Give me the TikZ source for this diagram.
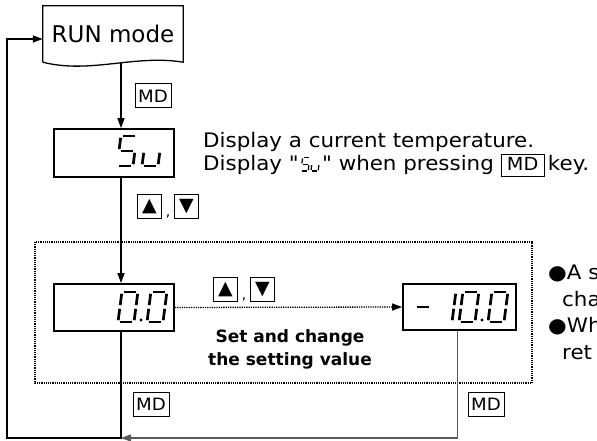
\documentclass[tikz,border=0pt]{standalone}
\usepackage{fontspec}
\setmainfont{DejaVu Sans}
\newfontfamily\notefont{DejaVu Sans}[FakeStretch=1.07]
\usetikzlibrary{arrows.meta,positioning}

% segments of a seven segment digit, cell 1 x 2
\newcommand\segpatha{(0.12,2) -- (0.88,2)}
\newcommand\segpathb{(1,1.88) -- (1,1.12)}
\newcommand\segpathc{(1,0.88) -- (1,0.12)}
\newcommand\segpathd{(0.12,0) -- (0.88,0)}
\newcommand\segpathe{(0,0.88) -- (0,0.12)}
\newcommand\segpathf{(0,1.88) -- (0,1.12)}
\newcommand\segpathg{(0.12,1) -- (0.88,1)}
% [scale]{bottom left}{segments}
\newcommand\segdigit[3][1]{%
  \begin{scope}[shift={#2}, x={(#1*16pt,0pt)}, y={(0pt,#1*15pt)}, xslant=0.13]
    \foreach \s in {#3} {\draw[line width=#1*2.7pt] \csname segpath\s\endcsname;}
  \end{scope}}
\newcommand\segdot[2][1]{\fill #2 circle (#1*1.7pt);}

\begin{document}
\begin{tikzpicture}[
x=1pt, y=-1pt,
box/.style={draw, line width=1.8pt, minimum width=120pt, minimum height=48pt},
key/.style={draw, line width=1pt, minimum size=24pt, inner sep=0pt, font=\fontsize{19}{19}\selectfont},
mdkey/.style={draw, line width=1pt, minimum width=36pt, minimum height=24pt, inner sep=0pt, font=\notefont\fontsize{17}{17}\selectfont},
flow/.style={line width=1.3pt, -{Triangle[length=10pt,width=7pt]}},
link/.style={line width=1.3pt},
note/.style={inner sep=0pt, anchor=base west, font=\notefont\fontsize{20}{23}\selectfont}
]
    \useasboundingbox (0,0) rectangle (597,441);

    % RUN mode document
    \node[minimum width=140pt, minimum height=56pt, inner sep=0pt, font=\fontsize{23}{23}\selectfont] (run) at (113,34) {RUN mode};
    \draw[link] (run.south west) -- (run.north west) -- (run.north east) -- (run.south east)
        .. controls +(-48,-8) and +(47,12) .. (run.south west);

    % displays
    \node[box] (sv) at (114,153) {};
    \segdigit{(117,166)}{a,f,g,c,d}
    \segdigit{(142,166)}{c,d,e}

    \node[box, minimum height=47pt] (zero) at (114,307.5) {};
    \segdigit{(118,322)}{a,b,c,d,e,f}
    \segdot{(141,320)}
    \segdigit{(147,322)}{a,b,c,d,e,f}

    \node[box, minimum width=113pt, minimum height=46pt] (neg) at (459.5,307) {};
    \segdigit{(413,322)}{g}
    \segdigit{(436,322)}{b,c}
    \segdigit{(459,322)}{a,b,c,d,e,f}
    \segdot{(482,320)}
    \segdigit{(488,322)}{a,b,c,d,e,f}

    % notes
    \node[note] (svnote1) at (203,148) {Display a current temperature.};
    \node[note] (svnote2) at (203,171) {Display "};
    \segdigit[0.45]{([xshift=2pt]svnote2.base east)}{a,f,g,c,d}
    \segdigit[0.45]{([xshift=12pt]svnote2.base east)}{c,d,e}
    \node[note, anchor=base west] (svnote3) at ([xshift=23pt]svnote2.base east)
        {" when pressing \setlength\fboxsep{0pt}\setlength\fboxrule{1pt}\fbox{\makebox[42pt]{\rule[-5pt]{0pt}{21pt}\fontsize{18}{18}\selectfont MD}}\,key.};

    \node[note] (tip1) at (548,279) {●A s};
    \node[note] (tip2) at (562,306) {cha};
    \node[note] (tip3) at (548,332) {●Wh};
    \node[note] (tip4) at (562,359) {ret};

    % keys
    \node[mdkey] (md1) at (153,96) {MD};
    \node[key] (up1) at (149.5,206.5) {▲};
    \node[key, right=12pt of up1] (down1) {▼};
    \path (up1.south east) -- (down1.south west) node[midway, above, inner sep=1pt, font=\fontsize{14}{14}\selectfont] (comma1) {,};

    \node[key] (up2) at (225.5,289.5) {▲};
    \node[key, right=12pt of up2] (down2) {▼};
    \path (up2.south east) -- (down2.south west) node[midway, above, inner sep=1pt, font=\fontsize{14}{14}\selectfont] (comma2) {,};

    \node[mdkey] (md2) at (151,404) {MD};
    \node[mdkey] (md3) at (486,404) {MD};

    % setting frame
    \draw[densely dotted, line width=1.2pt] (35,242) rectangle (532,383);
    \node[align=center, font=\bfseries\fontsize{17}{23}\selectfont] (settext) at (290,349) {Set and change\\the setting value};

    % connectors
    \coordinate (col) at (121,0);
    \coordinate (low) at (0,438);
    \coordinate (loopbl) at (7,438);
    \coordinate (looptl) at (7,39);
    \draw[flow] (run.south -| col) -- (sv.north -| col);
    \draw[flow] (sv.south -| col) -- (zero.north -| col);
    \draw[flow, densely dotted] (zero.east) -- (neg.west);
    \draw[flow] (zero.south -| col) -- (col |- low) -- (loopbl) -- (looptl) -- (run.west |- looptl);
    \draw[flow, black!65] ([xshift=-2pt]neg.south) -- ([xshift=-2pt]neg.south |- low) -- (col |- low);

\end{tikzpicture}
\end{document}
